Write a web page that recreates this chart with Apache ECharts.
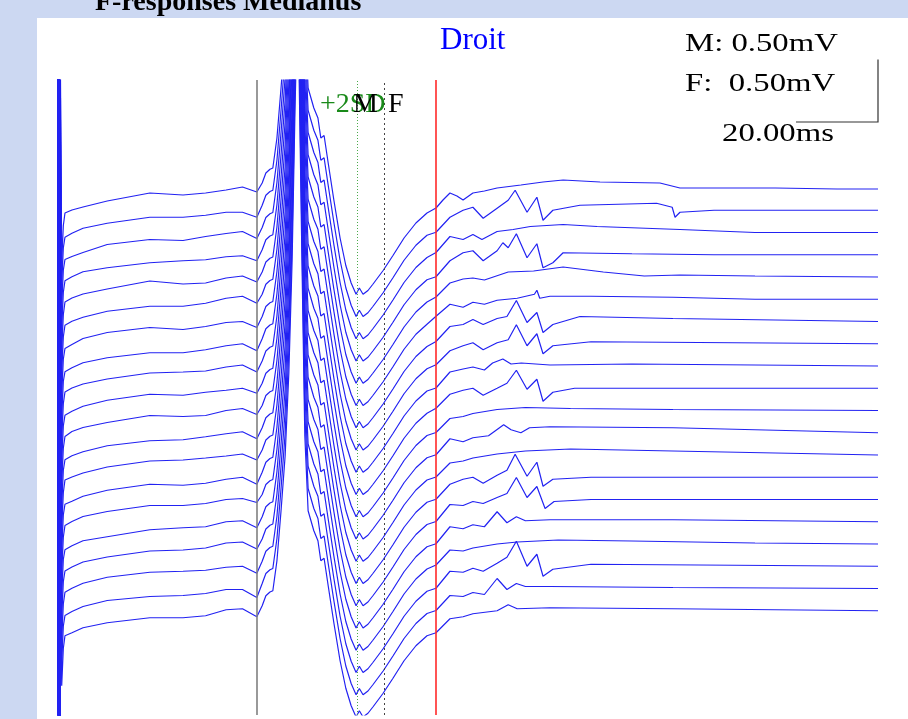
<!DOCTYPE html>
<html>
<head>
<meta charset="utf-8">
<script src="https://cdn.jsdelivr.net/npm/echarts@6/dist/echarts.min.js"></script>
<style>
  html, body { margin: 0; padding: 0; background: #ccd8f2; }
  #chart { width: 908px; height: 719px; }
</style>
</head>
<body>
<div id="chart"></div>
<script>
// F-responses, median nerve, right side: 20 consecutive sweeps stacked top to bottom.
// Time in ms after the stimulus, amplitude in µV relative to each sweep's own baseline.

// Stimulus artifact (saturating spike at the start of every sweep)
const artifactTimes = [0, 0.15, 0.3, 0.45, 0.6, 0.9, 1.3];
const artifactUv = [9000, -9000, 9000, -9000, 900, -600, -300];

// Pre-M baseline, sampled per sweep
const earlyTimes = [1.7, 3.4, 6.1, 12, 22.4, 30.5, 36, 41, 45, 48.5];
const earlyUv = [
  [-200, -176, -152, -104, -40, -56, -40, -16, 8, -32],
  [-216, -184, -144, -104, -56, -56, -40, -16, -16, -56],
  [-216, -192, -160, -96, -56, -64, -32, -8, 8, -48],
  [-208, -176, -136, -104, -64, -48, -40, -16, -8, -48],
  [-200, -168, -136, -96, -32, -56, -48, -8, 8, -40],
  [-208, -176, -144, -96, -56, -56, -32, 8, 24, -32],
  [-216, -184, -136, -88, -48, -64, -40, -8, 0, -48],
  [-224, -192, -152, -112, -72, -72, -48, -16, 0, -56],
  [-208, -176, -144, -104, -56, -48, -40, -8, 8, -48],
  [-216, -184, -144, -96, -48, -56, -32, -16, 0, -40],
  [-208, -168, -136, -96, -40, -48, -40, 0, 16, -32],
  [-216, -184, -152, -104, -64, -56, -32, -8, 8, -48],
  [-200, -176, -144, -96, -48, -40, -24, -8, 8, -40],
  [-216, -192, -152, -104, -56, -64, -48, -16, 0, -56],
  [-208, -176, -136, -96, -48, -48, -32, 0, 8, -24],
  [-224, -192, -152, -120, -64, -48, -40, 0, 8, -48],
  [-216, -184, -144, -104, -56, -48, -32, 8, 16, -40],
  [-208, -176, -136, -88, -48, -40, -32, -8, 0, -56],
  [-216, -184, -144, -96, -64, -56, -40, -8, -8, -72],
  [-200, -176, -136, -96, -56, -56, -40, 8, 16, -48]
];

// M response (the same compound muscle potential on every sweep)
const mTimes = [49.8, 50.7, 51.7, 52.4, 53.4, 54.4, 55.4, 56.3, 57.1, 57.8, 58.3, 58.8, 59.5,
  60.2, 61.0, 61.7, 62.4, 63.4, 64.1, 64.9, 65.9, 67.3, 68.8, 70.2, 71.5, 72.7, 73.5, 74.4,
  75.6, 76.8, 79.3, 81.7, 84.4, 87.3, 90.0];
const mUv = [40, 120, 150, 160, 400, 800, 1240, 1900, 2800, 4000, 4700, 4300, 2800,
  1400, 800, 720, 640, 560, 400, 420, 200, -100, -400, -620, -760, -850, -800, -850,
  -820, -770, -660, -540, -400, -280, -200];

// Late part of each sweep: [ms, µV] pairs, F waves included
const lateUv = [
  [[92.2,-160],[93.9,-96],[95.6,-40],[97.3,-64],[98.8,-96],[101.2,-40],[104,-24],[107.1,0],[112.9,24],[118.3,48],[123.2,64],[132.2,48],[146.8,40],[151.7,0],[175,0],[190,-8],[200,-8]],
  [[92.2,-176],[95.6,-56],[98.8,0],[101.2,24],[103.7,-64],[107.1,16],[109.8,80],[111.5,160],[114.4,-16],[116.8,104],[118.3,-80],[120.7,0],[127.3,40],[146,56],[149.8,24],[150.5,-56],[151.7,-16],[160,0],[200,0]],
  [[92.2,-160],[95.6,-32],[98.8,-56],[101.2,-16],[103.4,-56],[107.1,8],[111,24],[115.2,48],[123.2,64],[131.5,48],[151.7,24],[170,0],[200,0]],
  [[92.2,-176],[95.6,-48],[98.8,16],[101.2,32],[103.7,-48],[107.1,32],[108.5,96],[109.8,56],[111.8,168],[114.4,-24],[116.8,88],[118.3,-104],[120.7,-64],[123.2,16],[140,8],[160,0],[200,0]],
  [[92.2,-160],[95.6,-48],[98.8,-16],[101.2,-8],[104,-24],[109.8,40],[116,48],[123.2,80],[133,40],[143,8],[151.7,16],[170,8],[200,0]],
  [[92.2,-136],[95.6,-40],[98.8,-64],[101.2,-24],[104,-40],[107.1,-8],[112,8],[116.2,40],[116.8,72],[117.5,8],[120,24],[130,24],[150,16],[170,0],[200,0]],
  [[92.2,-160],[95.6,-40],[98.8,-24],[101.2,16],[103.7,-24],[107.1,24],[109.5,40],[111.8,168],[114.4,-8],[116.8,72],[118.3,-88],[120.7,-24],[127.3,40],[150,24],[200,0]],
  [[92.2,-168],[95.6,-56],[98.8,-16],[101.2,8],[103.7,-48],[107.1,8],[109.8,32],[111.8,152],[114.4,-16],[116.8,80],[118.3,-80],[120.7,-16],[130,16],[200,0]],
  [[92.2,-176],[95.6,-48],[98.8,-24],[101.2,-8],[104,-32],[106,24],[108.5,56],[110.5,16],[113,24],[120,8],[140,16],[200,0]],
  [[92.2,-160],[95.6,-48],[98.8,-16],[101.2,0],[103.7,-56],[107.1,0],[109.5,40],[111.8,144],[114.4,-8],[116.8,72],[118.3,-104],[120.7,-32],[126,0],[200,0]],
  [[92.2,-176],[95.6,-64],[98.8,-48],[101.2,-24],[107.1,8],[114,24],[125,16],[150,8],[200,0]],
  [[92.2,-176],[95.6,-48],[98.8,-72],[101.2,-40],[105,-24],[108.7,64],[110.5,24],[112.9,0],[115,40],[120,48],[150,40],[200,0]],
  [[92.2,-176],[95.6,-64],[98.8,-48],[101.2,-24],[107.1,8],[114,32],[125,48],[150,32],[200,0]],
  [[92.2,-176],[95.6,-56],[98.8,-16],[101.2,0],[103.7,-48],[107.1,16],[109.5,56],[111.5,184],[114.4,8],[116.8,120],[118.3,-72],[120.7,-16],[130,0],[200,0]],
  [[92.2,-176],[95.6,-40],[98.8,-48],[101.2,-16],[103.7,-32],[107.1,16],[109.5,48],[111.8,176],[114.4,16],[116.8,104],[118.8,-72],[121,-16],[130,0],[200,0]],
  [[92.2,-176],[95.6,-40],[98.8,-56],[101.2,-24],[104,-40],[107.1,80],[109.5,-8],[111.8,40],[114,8],[120,16],[150,16],[200,0]],
  [[92.2,-168],[95.6,-48],[98.8,-56],[101.2,-32],[107.1,0],[112,16],[122,32],[140,24],[170,8],[200,0]],
  [[92.2,-176],[95.6,-40],[98.8,-48],[101.2,-16],[103.7,-40],[107.1,24],[109.5,72],[111.8,200],[114.4,0],[116.8,96],[118.3,-80],[120.7,-24],[130,16],[200,0]],
  [[92.2,-176],[95.6,-56],[98.8,-64],[101.2,-32],[104,-48],[107.1,80],[109.5,-8],[111.8,40],[114,16],[120,16],[150,8],[200,0]],
  [[92.2,-176],[95.6,-64],[98.8,-48],[101.2,-24],[107.1,0],[109.8,48],[112,16],[120,24],[150,16],[200,0]]
];

// Cursors (ms)
const cursorGrayMs = 48.5;
const cursorMMs = 72.9;
const cursorFMs = 79.5;
const cursorRedMs = 92.2;

// Display settings
const sweepWindowMs = 200;
const firstSweepLevelUv = -864;   // vertical placement of the top sweep
const sweepGapUv = 178;           // stacking step between sweeps
const displayRangeUv = 5080;
const scaleBarMs = 20;
const scaleBarUv = 500;

const chart = echarts.init(document.getElementById('chart'), null, { renderer: 'canvas' });

const series = lateUv.map((late, i) => {
  const level = firstSweepLevelUv - i * sweepGapUv;
  const pts = [];
  artifactTimes.forEach((t, k) => pts.push([t, level + artifactUv[k]]));
  earlyTimes.forEach((t, k) => pts.push([t, level + earlyUv[i][k]]));
  mTimes.forEach((t, k) => pts.push([t, level + mUv[k]]));
  late.forEach(p => pts.push([p[0], level + p[1]]));
  return {
    type: 'line',
    data: pts,
    showSymbol: false,
    symbol: 'none',
    clip: true,
    silent: true,
    lineStyle: { color: '#2222f2', width: 1.2 },
    z: 3
  };
});

series.push({
  type: 'line',
  data: [],
  silent: true,
  z: 2,
  markLine: {
    silent: true,
    symbol: 'none',
    label: { show: false },
    animation: false,
    data: [
      { xAxis: cursorGrayMs, lineStyle: { color: '#808080', width: 1.6, type: 'solid' } },
      { xAxis: cursorMMs, lineStyle: { color: '#4aaa4a', width: 1, type: [1, 2] } },
      { xAxis: cursorFMs, lineStyle: { color: '#444444', width: 1, type: [2, 3] } },
      { xAxis: cursorRedMs, lineStyle: { color: '#ff2a2a', width: 1.6, type: 'solid' } }
    ]
  }
});

const serif = '"Liberation Serif", "DejaVu Serif", serif';
// top of a text box for a wanted baseline
const topFor = (baseline, size) => baseline - 0.8 * size;

function label(id, text, x, baseline, size, color, opts) {
  return Object.assign({
    id: id, type: 'text', z: 50, x: x, y: topFor(baseline, size),
    style: { text: text, font: size + 'px ' + serif, fill: color }
  }, opts || {});
}

chart.setOption({
  animation: false,
  backgroundColor: 'transparent',
  grid: { left: 58, right: 30, top: 80, bottom: 4 },
  xAxis: { type: 'value', min: 0, max: sweepWindowMs, show: false },
  yAxis: { type: 'value', min: -displayRangeUv, max: 0, show: false },
  series: series,
  graphic: [
    { id: 'panel', type: 'rect', z: -10, shape: { x: 37, y: 18, width: 871, height: 701 }, style: { fill: '#ffffff' } },
    { id: 'title', type: 'text', z: 50, x: 95, y: topFor(11, 28), style: { text: 'F-responses Medianus', font: 'bold 28px ' + serif, fill: '#000' } },
    label('side', 'Droit', 440, 50, 31, '#0000ff'),
    label('gainM', 'M: 0.50mV', 685, 52, 26, '#000', { scaleX: 1.26 }),
    label('gainF', 'F:  0.50mV', 685, 92, 26, '#000', { scaleX: 1.26 }),
    label('sweep', '20.00ms', 722, 142, 26, '#000', { scaleX: 1.26 }),
    label('sd', '+2SD', 320, 113, 28, '#1a8a1a'),
    label('mMark', 'M', 353, 113, 28, '#000', { z: 51 }),
    label('fMark', 'F', 388, 113, 28, '#000', { z: 51 })
  ]
});

// Calibration bar (20 ms x 0.5 mV) anchored to the end of the sweep window
const corner = chart.convertToPixel({ gridIndex: 0 }, [sweepWindowMs, 0]);
const leftEnd = chart.convertToPixel({ gridIndex: 0 }, [sweepWindowMs - scaleBarMs, 0]);
const pxPerBar = chart.convertToPixel({ gridIndex: 0 }, [0, -scaleBarUv])[1] - chart.convertToPixel({ gridIndex: 0 }, [0, 0])[1];
const barBottom = 122;
chart.setOption({
  graphic: [
    { id: 'calib', type: 'polyline', z: 50,
      shape: { points: [[corner[0], barBottom - pxPerBar], [corner[0], barBottom], [leftEnd[0], barBottom]] },
      style: { stroke: '#333', lineWidth: 1.2, fill: null } }
  ]
});
</script>
</body>
</html>
